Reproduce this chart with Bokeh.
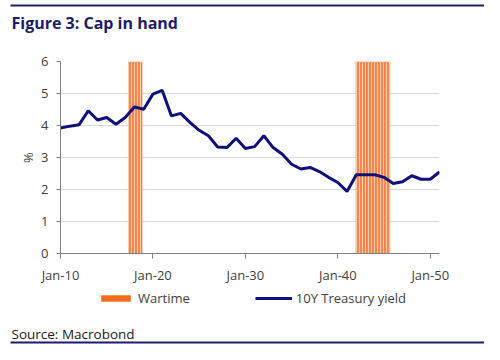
from bokeh.plotting import figure
from bokeh.models import (Legend, LegendItem, FixedTicker, ColumnDataSource,
                          Range1d, Label, BoxAnnotation)
from bokeh.layouts import column
from bokeh.embed import file_html
from bokeh.resources import INLINE

# ---- data ----
years = [1910, 1911, 1912, 1913, 1914, 1915, 1916, 1917, 1918, 1919,
         1920, 1921, 1922, 1923, 1924, 1925, 1926, 1927, 1928, 1929,
         1930, 1931, 1932, 1933, 1934, 1935, 1936, 1937, 1938, 1939,
         1940, 1941, 1942, 1943, 1944, 1945, 1946, 1947, 1948, 1949,
         1950, 1951]
yield_pct = [3.92, 3.98, 4.02, 4.46, 4.17, 4.25, 4.04, 4.25, 4.58, 4.51,
             4.98, 5.10, 4.30, 4.38, 4.10, 3.85, 3.68, 3.33, 3.31, 3.60,
             3.28, 3.34, 3.68, 3.31, 3.10, 2.79, 2.64, 2.69, 2.56, 2.38,
             2.22, 1.94, 2.46, 2.46, 2.46, 2.38, 2.19, 2.24, 2.43, 2.32,
             2.32, 2.55]
war_start = [1917.30, 1941.93]
war_end = [1918.86, 1945.67]
war_bottom = [0, 0]
war_top = [6, 6]
tick_years = [1910, 1920, 1930, 1940, 1950]
tick_labels = ["Jan-10", "Jan-20", "Jan-30", "Jan-40", "Jan-50"]
y_ticks = [0, 1, 2, 3, 4, 5, 6]

NAVY = "#1C1C6C"
LINE = "#10107D"
ORANGE = "#F5844A"
LEG_ORANGE = "#F36C1E"
FONT = "Open Sans"
W = 484


def bare(height):
    f = figure(width=W, height=height, output_backend="svg", toolbar_location=None,
               x_axis_type=None, y_axis_type=None, x_range=Range1d(0, 1),
               y_range=Range1d(0, 1), min_border=0)
    f.outline_line_color = None
    f.grid.visible = False
    f.background_fill_color = "white"
    f.border_fill_color = "white"
    try:
        f.frame_align = False
    except Exception:
        pass
    return f


def rule(bottom, top):
    return BoxAnnotation(left=10, right=W, bottom=bottom, top=top,
                         left_units="screen", right_units="screen",
                         top_units="screen", bottom_units="screen",
                         fill_color=NAVY, fill_alpha=1, line_color=None)


# ---- header ----
head = bare(45)
head.add_layout(rule(39, 41))
head.add_layout(Label(x=11, y=23, x_units="screen", y_units="screen",
                      text="Figure 3: Cap in hand", text_font=FONT,
                      text_font_style="bold", text_font_size="16px",
                      text_color=NAVY, text_baseline="middle"))

# ---- main chart ----
p = figure(width=W, height=241, output_backend="svg", toolbar_location=None,
           x_range=Range1d(1910, 1951), y_range=Range1d(0, 6),
           min_border_left=60, min_border_right=45, min_border_top=16,
           min_border_bottom=33)
p.outline_line_color = None
p.background_fill_color = "white"
p.border_fill_color = "white"

war = ColumnDataSource(dict(left=war_start, right=war_end, bottom=war_bottom, top=war_top))
p.quad(left="left", right="right", bottom="bottom", top="top", source=war,
       fill_color=ORANGE, line_color=None)
p.quad(left="left", right="right", bottom="bottom", top="top", source=war,
       fill_alpha=0, line_color=None, hatch_pattern="vertical_line",
       hatch_color="#FBCDAE", hatch_scale=3, hatch_weight=1.1)
p.line(years, yield_pct, line_color=LINE, line_width=3)

p.xgrid.visible = False
p.ygrid.grid_line_color = "#D9D9D9"

for ax in (p.xaxis[0], p.yaxis[0]):
    ax.axis_line_color = "#808080"
    ax.major_tick_line_color = "#808080"
    ax.minor_tick_line_color = None
    ax.major_tick_in = 0
    ax.major_label_text_font = FONT
    ax.major_label_text_font_size = "13px"
    ax.major_label_text_color = "#404040"

p.xaxis.ticker = FixedTicker(ticks=tick_years)
p.xaxis.major_label_overrides = dict(zip(tick_years, tick_labels))
p.xaxis.major_tick_out = 5
p.xaxis.major_label_standoff = 7

p.yaxis.ticker = FixedTicker(ticks=y_ticks)
p.yaxis.major_tick_out = 4
p.yaxis.major_label_standoff = 8
p.yaxis.axis_label = "%"
p.yaxis.axis_label_text_font = FONT
p.yaxis.axis_label_text_font_style = "normal"
p.yaxis.axis_label_text_font_size = "13px"
p.yaxis.axis_label_text_color = "#404040"
p.yaxis.axis_label_standoff = 1

# ---- footer: legend, source, rule ----
foot = bare(58)
leg_bars = foot.quad(left="left", right="right", bottom="bottom", top="top",
                     source=war, fill_color=LEG_ORANGE, line_color=None)
leg_line = foot.line(years, yield_pct, line_color=LINE, line_width=3)
legend = Legend(items=[LegendItem(label="Wartime", renderers=[leg_bars]),
                       LegendItem(label="10Y Treasury yield", renderers=[leg_line])],
                location=(97, 37), orientation="horizontal",
                glyph_width=37, glyph_height=8, label_standoff=4, spacing=65,
                padding=0, margin=0, border_line_color=None,
                background_fill_alpha=0, label_text_font=FONT,
                label_text_font_size="13px", label_text_color="#404040",
                label_height=8)
foot.add_layout(legend)
foot.add_layout(Label(x=11, y=11, x_units="screen", y_units="screen",
                      text="Source: Macrobond", text_font=FONT,
                      text_font_size="13.5px", text_color="#202020",
                      text_baseline="middle"))
foot.add_layout(rule(1, 3))

layout = column(head, p, foot, spacing=0)
open("out.html", "w").write(file_html(layout, INLINE))
